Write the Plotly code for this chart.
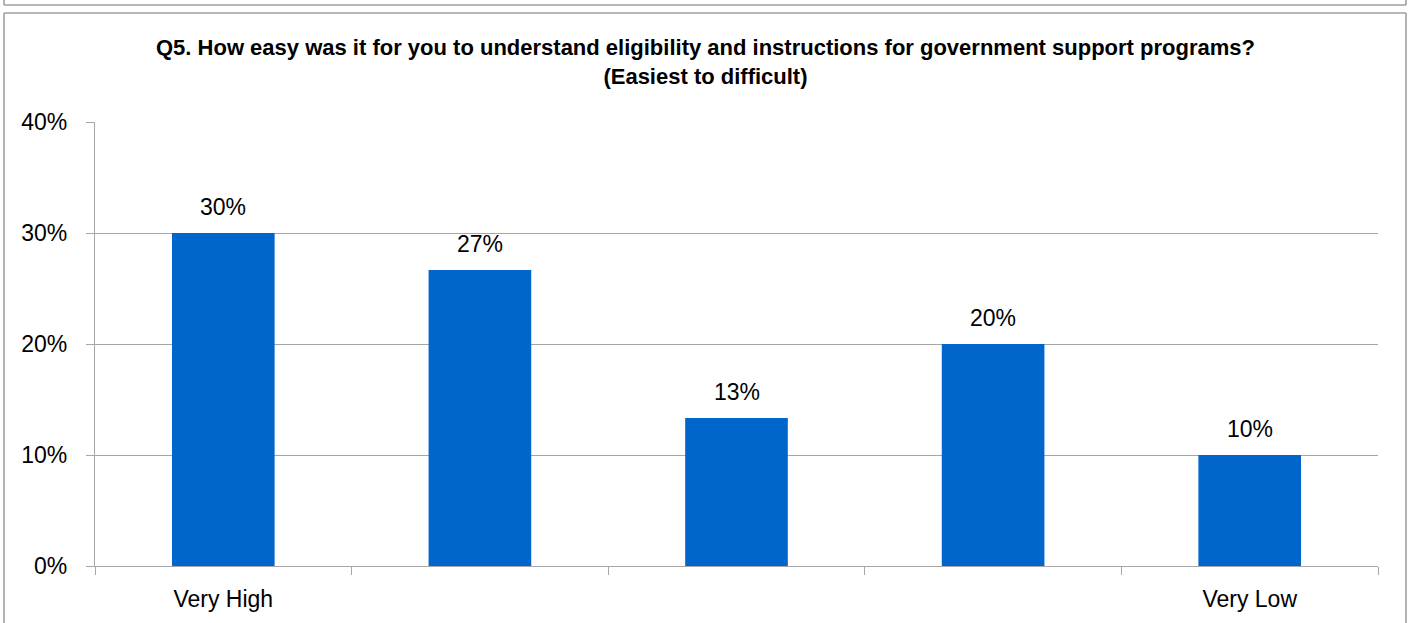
import plotly.graph_objects as go

categories = ["Very High", "High", "Moderate", "Low", "Very Low"]
tick_labels = ["Very High", "", "", "", "Very Low"]
values = [30.0, 26.67, 13.33, 20.0, 10.0]
value_labels = ["30%", "27%", "13%", "20%", "10%"]
y_ticks = [0, 10, 20, 30, 40]
y_tick_labels = ["0%", "10%", "20%", "30%", "40%"]
title_text = ("<b>Q5. How easy was it for you to understand eligibility and instructions for government support programs?</b>"
              "<br><b>(Easiest to difficult)</b>")

W, H = 1412, 623
L, R, T, B = 95, 34, 122, 57
pw, ph = W - L - R, H - T - B

def px(x):
    return (x - L) / pw

def py(y):
    return (H - B - y) / ph

FONT = "Liberation Sans, Arial, sans-serif"
GRAY = "#A6A6A6"

fig = go.Figure()
fig.add_trace(go.Bar(x=categories, y=values, marker=dict(color="#0066CC", line=dict(width=0)),
                     width=0.4, hoverinfo="skip"))

for c, v, t in zip(categories, values, value_labels):
    fig.add_annotation(x=c, y=v, text=t, showarrow=False, yanchor="bottom", yshift=11,
                       font=dict(size=23, color="#000000", family=FONT))

fig.add_annotation(xref="paper", yref="paper", x=px(705), y=py(61.5), text=title_text,
                   showarrow=False, xanchor="center", yanchor="middle",
                   font=dict(size=22, color="#000000", family=FONT), align="center")

# frame lines (chart border and previous chart border)
frame = dict(color="#A0A0A0", width=1.6)
shapes = [
    dict(type="line", xref="paper", yref="paper", x0=px(4), x1=px(1406), y0=py(13), y1=py(13), line=frame),
    dict(type="line", xref="paper", yref="paper", x0=px(4), x1=px(4), y0=py(13), y1=py(630), line=frame),
    dict(type="line", xref="paper", yref="paper", x0=px(1406), x1=px(1406), y0=py(13), y1=py(630), line=frame),
    dict(type="line", xref="paper", yref="paper", x0=px(4), x1=px(1406), y0=py(5), y1=py(5), line=frame),
    dict(type="line", xref="paper", yref="paper", x0=px(4), x1=px(4), y0=py(5), y1=py(-5), line=frame),
    dict(type="line", xref="paper", yref="paper", x0=px(1406), x1=px(1406), y0=py(5), y1=py(-5), line=frame),
]

fig.update_layout(
    width=W, height=H,
    margin=dict(l=L, r=R, t=T, b=B, autoexpand=False),
    paper_bgcolor="white", plot_bgcolor="white",
    showlegend=False, bargap=0.6,
    shapes=shapes,
    font=dict(family=FONT, color="#000000"),
    xaxis=dict(type="category", tickmode="array", tickvals=categories, ticktext=tick_labels,
               tickson="boundaries", ticks="outside", ticklen=8, tickcolor=GRAY, tickwidth=1.3,
               showline=True, linecolor=GRAY, linewidth=1.3, showgrid=False,
               tickfont=dict(size=23, color="#000000", family=FONT), ticklabelstandoff=12,
               range=[-0.5, 4.5]),
    yaxis=dict(range=[0, 40], tickmode="array", tickvals=y_ticks, ticktext=y_tick_labels,
               ticks="outside", ticklen=8, tickcolor=GRAY, tickwidth=1.3,
               showline=True, linecolor=GRAY, linewidth=1.3,
               showgrid=True, gridcolor=GRAY, gridwidth=1.3, zeroline=False,
               tickfont=dict(size=23, color="#000000", family=FONT), ticklabelstandoff=14),
)

fig.write_html("out.html", config={"displayModeBar": False},
               post_script="document.body.style.margin='0';document.body.style.overflow='hidden';")
